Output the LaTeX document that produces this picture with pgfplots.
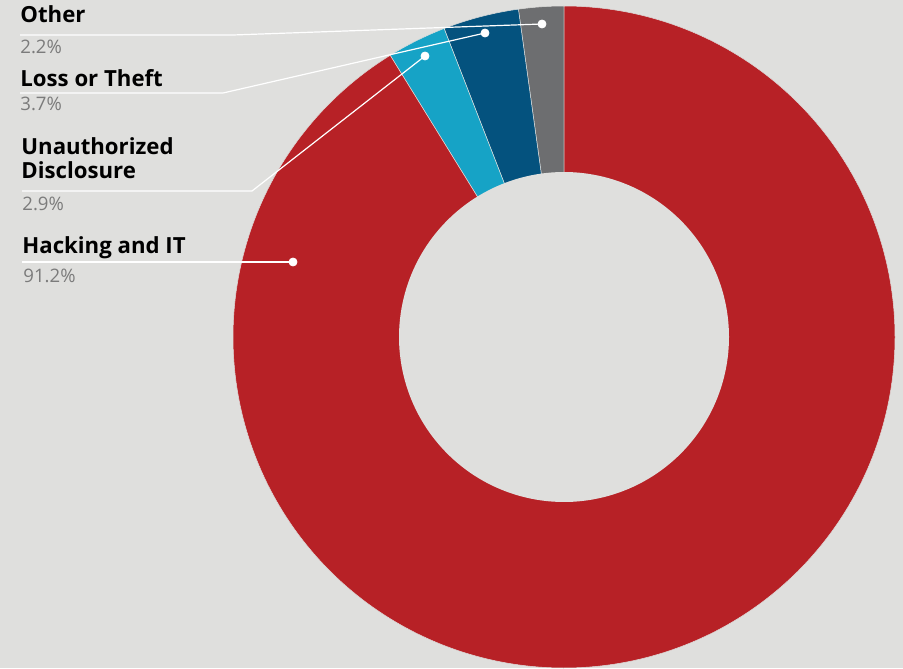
\documentclass[border=0pt]{standalone}
\usepackage{pgfplots}
\pgfplotsset{compat=1.18}
\usepackage{fontspec}
\setmainfont{Open Sans}
\definecolor{bg}{HTML}{DFDFDD}
\definecolor{cRed}{HTML}{B72126}
\definecolor{cDark}{HTML}{04527E}
\definecolor{cLight}{HTML}{16A3C6}
\definecolor{cGray}{HTML}{6D6E70}
\definecolor{pctgray}{HTML}{7B7B7B}
% shares (percent)
\def\pOther{2.2}
\def\pLoss{3.7}
\def\pUnauth{2.9}
\def\pHack{91.2}
\pgfmathsetmacro\aA{90}
\pgfmathsetmacro\aB{\aA+3.6*\pOther}
\pgfmathsetmacro\aC{\aB+3.6*\pLoss}
\pgfmathsetmacro\aD{\aC+3.6*\pUnauth}
\pgfmathsetmacro\aE{\aD+3.6*\pHack}
\begin{document}
\begin{tikzpicture}
\begin{axis}[
  width=451.5pt, height=334pt, scale only axis,
  xmin=0, xmax=903, ymin=0, ymax=668, y dir=reverse,
  hide axis,
]
\addplot[fill=bg, draw=none] coordinates {(0,0) (903,0) (903,668) (0,668)} -- cycle;
% slices
\addplot[fill=cGray, draw=bg, line width=0.25pt, domain=\aA:\aB, samples=20] ({564+331*cos(x)}, {337-331*sin(x)}) -- (axis cs:564,337) -- cycle;
\addplot[fill=cDark, draw=bg, line width=0.25pt, domain=\aB:\aC, samples=30] ({564+331*cos(x)}, {337-331*sin(x)}) -- (axis cs:564,337) -- cycle;
\addplot[fill=cLight, draw=bg, line width=0.25pt, domain=\aC:\aD, samples=30] ({564+331*cos(x)}, {337-331*sin(x)}) -- (axis cs:564,337) -- cycle;
\addplot[fill=cRed, draw=bg, line width=0.25pt, domain=\aD:\aE, samples=300] ({564+331*cos(x)}, {337-331*sin(x)}) -- (axis cs:564,337) -- cycle;
% hole
\addplot[fill=bg, draw=none, domain=0:360, samples=200] ({564+165*cos(x)}, {337-165*sin(x)}) -- cycle;
% leader lines
\addplot[white, line width=0.6pt] coordinates {(20,35) (233,35) (542,24)};
\addplot[white, line width=0.6pt] coordinates {(20,93) (223,93) (485,33)};
\addplot[white, line width=0.6pt] coordinates {(22,191) (252,191) (425,56)};
\addplot[white, line width=0.6pt] coordinates {(22,262) (293,262)};
\addplot[only marks, mark=*, mark size=2pt, white] coordinates {(542,24) (485,33) (425,56) (293,262)};
% labels
\node[anchor=base west, inner sep=0pt, font=\fontsize{11.1}{12}\selectfont\bfseries] at (axis cs:20,23) {Other};
\node[anchor=base west, inner sep=0pt, font=\fontsize{9.3}{10}\selectfont, text=pctgray] at (axis cs:20,54) {2.2\%};
\node[anchor=base west, inner sep=0pt, font=\fontsize{11.1}{12}\selectfont\bfseries] at (axis cs:20,87) {Loss or Theft};
\node[anchor=base west, inner sep=0pt, font=\fontsize{9.3}{10}\selectfont, text=pctgray] at (axis cs:20,111) {3.7\%};
\node[anchor=base west, inner sep=0pt, font=\fontsize{11.1}{12}\selectfont\bfseries] at (axis cs:21,155) {Unauthorized};
\node[anchor=base west, inner sep=0pt, font=\fontsize{11.1}{12}\selectfont\bfseries] at (axis cs:21,178) {Disclosure};
\node[anchor=base west, inner sep=0pt, font=\fontsize{9.3}{10}\selectfont, text=pctgray] at (axis cs:22,210) {2.9\%};
\node[anchor=base west, inner sep=0pt, font=\fontsize{11.1}{12}\selectfont\bfseries] at (axis cs:22,253) {Hacking and IT};
\node[anchor=base west, inner sep=0pt, font=\fontsize{9.3}{10}\selectfont, text=pctgray] at (axis cs:23,282) {91.2\%};
\end{axis}
\end{tikzpicture}
\end{document}
